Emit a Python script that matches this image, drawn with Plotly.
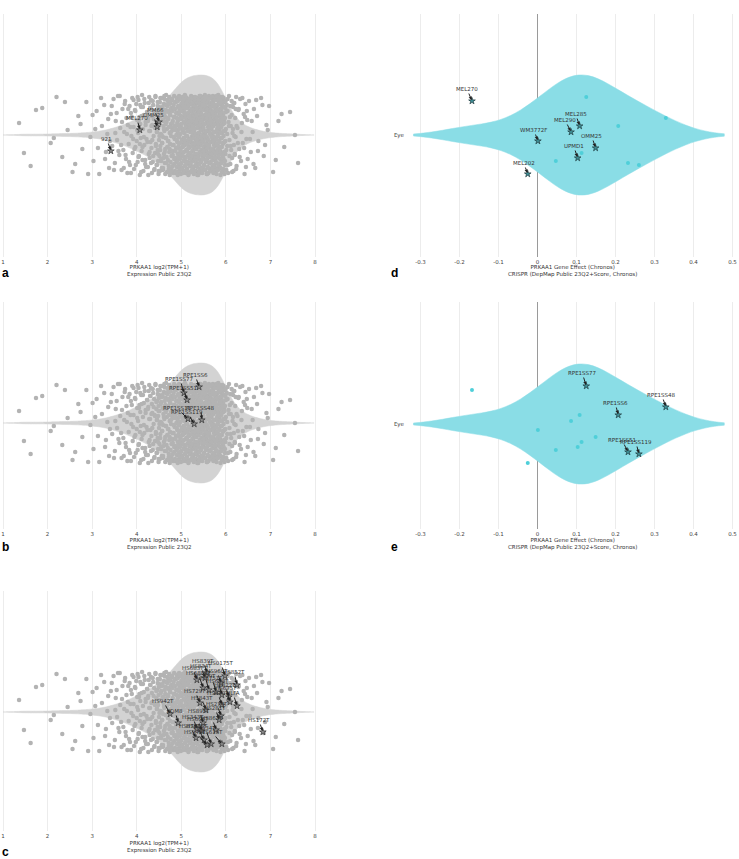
import plotly.graph_objects as go

W, H = 739, 859

# ---------------- data ----------------
expr_tick_vals = [1, 2, 3, 4, 5, 6, 7, 8]
expr_tick_text = ["1", "2", "3", "4", "5", "6", "7", "8"]
effect_tick_vals = [-0.3, -0.2, -0.1, 0, 0.1, 0.2, 0.3, 0.4, 0.5]
effect_tick_text = ["-0.3", "-0.2", "-0.1", "0", "0.1", "0.2", "0.3", "0.4", "0.5"]
lineage = ["Eye"]

expr_title = "PRKAA1 log2(TPM+1)<br>Expression Public 23Q2"
effect_title = "PRKAA1 Gene Effect (Chronos)<br>CRISPR (DepMap Public 23Q2+Score, Chronos)"

# PRKAA1 expression of all cell lines, part 1
expr_values_1 = [
    1.36, 1.62, 1.88, 2.07, 2.20, 2.33, 2.45, 2.56, 2.69, 2.78, 2.87, 2.96, 3.03, 3.10, 3.16, 3.22,
    3.27, 3.31, 3.34, 3.38, 3.42, 3.45, 3.48,
    3.51, 3.53, 3.56, 3.58, 3.61, 3.63, 3.66, 3.68, 3.70, 3.72, 3.74,
    3.76, 3.77, 3.79, 3.80, 3.82, 3.84, 3.85, 3.87, 3.88, 3.90, 3.91, 3.93, 3.94, 3.96, 3.97, 3.99,
    4.00, 4.01, 4.02, 4.03, 4.04, 4.05, 4.06, 4.07, 4.08, 4.09, 4.10, 4.11, 4.12, 4.13, 4.14, 4.15,
    4.16, 4.17, 4.18, 4.19, 4.20, 4.22, 4.24,
    4.25, 4.26, 4.27, 4.28, 4.28, 4.29, 4.30, 4.31, 4.32, 4.33, 4.34, 4.34, 4.35, 4.36, 4.37, 4.38,
    4.39, 4.40, 4.40, 4.41, 4.42, 4.43, 4.44, 4.45, 4.45, 4.46, 4.47, 4.47, 4.48, 4.48, 4.49, 4.49,
    4.50, 4.50, 4.51, 4.51, 4.52, 4.53, 4.53, 4.54, 4.55, 4.55, 4.56, 4.57, 4.57, 4.58, 4.59, 4.59,
    4.60, 4.61, 4.61, 4.62, 4.62, 4.63, 4.64, 4.64, 4.65, 4.65, 4.66, 4.67, 4.67, 4.68, 4.68, 4.69,
    4.69, 4.70, 4.70, 4.71, 4.71, 4.72, 4.72, 4.73, 4.73, 4.74, 4.74,
    4.75, 4.75, 4.76, 4.76, 4.77, 4.77, 4.78, 4.78, 4.79, 4.79, 4.80, 4.80, 4.81, 4.81, 4.82, 4.82,
    4.83, 4.83, 4.84, 4.84, 4.85, 4.85, 4.86, 4.86, 4.87, 4.87, 4.88, 4.88, 4.89, 4.89,
    4.90, 4.90, 4.90, 4.91, 4.91, 4.91, 4.92, 4.92, 4.92, 4.93, 4.93, 4.93, 4.94, 4.94, 4.94,
    4.95, 4.95, 4.95, 4.96, 4.96, 4.96, 4.97, 4.97, 4.97, 4.98, 4.98, 4.98, 4.99, 4.99, 4.99,
    5.00, 5.00, 5.01, 5.01, 5.02, 5.02,
    5.03, 5.03, 5.03, 5.04, 5.04, 5.04, 5.05, 5.05, 5.05, 5.06, 5.06, 5.06, 5.07, 5.07, 5.07,
    5.08, 5.08, 5.08, 5.09, 5.09, 5.09, 5.10, 5.10, 5.10, 5.11, 5.11, 5.11, 5.12, 5.12, 5.12,
    5.13, 5.13, 5.13, 5.14, 5.14, 5.14, 5.15, 5.15, 5.15, 5.16, 5.16, 5.16, 5.17, 5.17, 5.17,
    5.18, 5.18, 5.18, 5.19, 5.19, 5.19, 5.20, 5.20, 5.20, 5.21, 5.21, 5.21, 5.22, 5.22, 5.22,
    5.23, 5.23, 5.23, 5.24, 5.24, 5.24,
    5.25, 5.25, 5.25, 5.26, 5.26, 5.26, 5.27, 5.27, 5.27, 5.28, 5.28, 5.28, 5.29, 5.29, 5.29,
    5.30, 5.30, 5.30, 5.31, 5.31, 5.31, 5.32, 5.32, 5.32, 5.33, 5.33, 5.33, 5.34, 5.34, 5.34,
    5.35, 5.35, 5.35, 5.36, 5.36, 5.36, 5.37, 5.37, 5.37, 5.38, 5.38, 5.38, 5.39, 5.39, 5.39,
    5.40, 5.40, 5.40, 5.40, 5.41, 5.41, 5.41, 5.42, 5.42, 5.42, 5.43, 5.43, 5.43, 5.44, 5.44, 5.44,
    5.45, 5.45, 5.45, 5.45, 5.46, 5.46, 5.46, 5.47, 5.47, 5.47, 5.48, 5.48, 5.48, 5.49, 5.49, 5.49,
    5.50, 5.50, 5.50, 5.51, 5.51, 5.51, 5.52, 5.52, 5.52, 5.53, 5.53, 5.53, 5.54, 5.54, 5.54,
    5.55, 5.55, 5.55, 5.56, 5.56, 5.56, 5.57, 5.57, 5.57, 5.58, 5.58, 5.58, 5.59, 5.59, 5.59,
    5.60, 5.60, 5.60, 5.61, 5.61, 5.61, 5.62, 5.62, 5.62, 5.63, 5.63, 5.63, 5.64, 5.64, 5.64,
    5.65, 5.65, 5.65, 5.66, 5.66, 5.66, 5.67, 5.67, 5.67, 5.68, 5.68, 5.68, 5.69, 5.69, 5.69,
    5.70, 5.70, 5.70, 5.71, 5.71, 5.71, 5.72, 5.72, 5.72, 5.73, 5.73, 5.73, 5.74, 5.74, 5.74,
    5.75, 5.75, 5.75, 5.76, 5.76, 5.76, 5.77, 5.77, 5.77, 5.78, 5.78, 5.78, 5.79, 5.79, 5.79,
    5.80, 5.80, 5.80, 5.81, 5.81, 5.81, 5.82, 5.82, 5.82, 5.83, 5.83, 5.83, 5.84, 5.84, 5.84,
    5.85, 5.85, 5.85, 5.86, 5.86, 5.86, 5.87, 5.87, 5.87, 5.88, 5.88, 5.88, 5.89, 5.89, 5.89,
    5.90, 5.90, 5.90, 5.91, 5.91, 5.91, 5.92, 5.92, 5.92, 5.93, 5.93, 5.93, 5.94, 5.94, 5.94,
    5.95, 5.95, 5.96, 5.96, 5.97, 5.97, 5.98, 5.98, 5.99, 5.99,
    6.00, 6.01, 6.02, 6.03, 6.04, 6.05, 6.06, 6.07, 6.08, 6.09, 6.10, 6.11, 6.12, 6.13, 6.14, 6.15,
    6.16, 6.17, 6.18, 6.19, 6.20, 6.21, 6.22, 6.23, 6.24,
    6.26, 6.28, 6.30, 6.32, 6.34, 6.36, 6.38, 6.40, 6.42, 6.44, 6.46, 6.48, 6.49,
    6.52, 6.56, 6.60, 6.63, 6.66, 6.70, 6.73,
    6.79, 6.85, 6.91, 6.97,
    7.06, 7.18, 7.31, 7.44,
    7.62,
]

# vertical scatter offsets of part 1 (pixels from the violin axis)
expr_jitter_1 = [
    12, -31, 27, -8, 38, -22, 5, -37, 19, -14, 33, -2, -26, 24, -39, 9, 30, -17, 1, -33,
    21, -11, 36, -28, 14, -5, 39, -20, 7, -35, 26, -15, 3, 34, -24, 17, -38, 10, -9, 29,
    -30, 22, -1, 37, -18, 8, -34, 25, -12, 31, -6, 15, -27, 2, 35, -21, 18, -40, 11, -3,
    28, -16, 40, -25, 6, -36, 20, -10, 32, -29, 13, -4, 23, -32, 16, -19, 4, 38, -23, 27,
    -7, 35, -13, 19, -38, 10, -27, 30, -1, 24, -34, 8, -18, 39, -9, 14, -30, 3, 22, -15,
    33, -26, 7, -39, 17, -5, 28, -21, 12, -36, 37, -11, 1, -24, 21, -33, 26, -8, 15, -2,
    -35, 9, 31, -19, 4, 36, -28, 18, -14, 25, -3, 40, -22, 13, -37, 6, 29, -12, 34, -25,
    16, -6, 23, -31, 38, -17, 2, -40, 20, -9, 32, -27, 11, -1, 27, -34, 7, 35, -16, 24,
    -20, 14, -38, 5, 30, -10, 39, -29, 18, -4, 26, -36, 9, -23, 33, -13, 0, 22, -32, 17,
    37, -7, 12, -25, 3, 34, -19, 28, -37, 15, -11, 21, -30, 6, 39, -2, 25, -35, 10, -18,
    29, -24, 1, 36, -14, 19, -39, 8, -28, 31, -5, 16, -33, 24, -12, 38, -21, 4, -8, 32,
    -3, 26, -36, 13, -17, 35, -26, 2, 23, -10, 40, -31, 11, -22, 18, -6, 30, -38, 7, 20,
    -15, 37, -27, 10, 27, -1, -34, 15, -9, 33, -20, 5, 28, -40, 21, -13, 36, -4, 14, -29,
    8, -23, 34, -12, 24, -37, 3, 31, -18, 17, -30, 39, -7, 12, -25, 26, -2, -35, 19, 6,
    38, -16, 22, -33, 9, -8, 29, -26, 35, -1, 14, -39, 25, -11, 4, 32, -22, 17, -31, 11,
    -19, 30, -5, 21, -36, 16, 36, -14, 1, -28, 27, -9, 37, -24, 7, -32, 23, -3, 13, -40,
    24, -12, 33, -21, 10, -38, 18, 2, -29, 39, -17, 28, -6, 15, -34, 35, -25, 6, -10, 22,
    -27, 19, -2, 31, -15, 5, -37, 26, 13, -20, 38, -33, 9, -7, 29, -23, 1, 34, -13, 16,
    36, -30, 11, -4, 25, -18, 40, -11, 20, -35, 3, 30, -26, 17, -1, 37, -16, 12, -39, 27,
    -8, 15, -24, 35, -3, 22, -32, 8, 32, -19, 26, -38, 4, 18, -12, 39, -28, 10, -22, 2,
    31, -13, 17, -34, 28, -7, 12, -27, 37, 0, -21, 24, -36, 6, 33, -16, 20, -5, -31, 14,
    -1, 39, -25, 9, -14, 34, -30, 23, -10, 16, -37, 29, 3, -19, 38, -8, 11, -33, 25, -17,
    21, -4, 36, -23, 13, -39, 27, -2, 18, -28, 35, 7, -15, 30, -35, 1, 24, -11, 40, -20,
    10, -29, 32, -6, 19, -32, 5, 38, -16, 26, -24, 14, -40, 22, -3, 31, -18, 8, -27, 36,
    -12, 23, -37, 16, 2, 29, -22, 35, -9, 11, -34, 20, -1, 37, -26, 15, -7, 33, -30, 4,
    27, -19, 6, -35, 30, -11, 24, -38, 13, 39, -5, 18, -29, 9, -15, 34, -23, 2, 28, -36,
    -10, 32, -20, 17, -2, 38, -31, 7, 25, -14, 36, -26, 12, -8, 21, -39, 31, -4, 15, -24,
    34, -17, 3, 26, -33, 19, -6, 37, -21, 10, 29, -37, 14, -12, 23, -28,
]

# part 2 of the expression values
expr_values_2 = [
    1.47, 1.74, 2.14, 2.39, 2.62, 2.74, 2.91, 3.01, 3.07, 3.13, 3.20,
    3.29, 3.36, 3.40, 3.44, 3.49,
    3.52, 3.55, 3.59, 3.62, 3.65, 3.67, 3.71, 3.73,
    3.75, 3.78, 3.81, 3.83, 3.86, 3.87, 3.89, 3.92, 3.93, 3.95, 3.97, 3.98,
    4.01, 4.02, 4.04, 4.05, 4.07, 4.08, 4.10, 4.11, 4.13, 4.14, 4.16, 4.17, 4.19, 4.20, 4.21, 4.23, 4.24,
    4.25, 4.26, 4.27, 4.29, 4.30, 4.31, 4.32, 4.33, 4.35, 4.36, 4.37, 4.38, 4.39, 4.41, 4.42, 4.43,
    4.44, 4.45, 4.46, 4.47, 4.48, 4.49, 4.49,
    4.50, 4.51, 4.52, 4.53, 4.54, 4.55, 4.56, 4.56, 4.57, 4.58, 4.59, 4.60, 4.60, 4.61, 4.62, 4.63,
    4.63, 4.64, 4.65, 4.66, 4.66, 4.67, 4.68, 4.69, 4.69, 4.70, 4.71, 4.72, 4.72, 4.73, 4.74,
    4.75, 4.76, 4.77, 4.77, 4.78, 4.79, 4.80, 4.80, 4.81, 4.82, 4.83, 4.83, 4.84, 4.85, 4.86, 4.86,
    4.87, 4.88, 4.89, 4.89, 4.90, 4.91, 4.91, 4.92, 4.92, 4.93, 4.93, 4.94, 4.94, 4.95, 4.95, 4.96,
    4.96, 4.97, 4.97, 4.98, 4.98, 4.99, 4.99, 4.99, 4.94, 4.96, 4.98,
    5.00, 5.00, 5.01, 5.01, 5.02, 5.02, 5.03, 5.03, 5.04, 5.04, 5.05, 5.05, 5.06, 5.06, 5.07, 5.07,
    5.08, 5.08, 5.09, 5.09, 5.10, 5.10, 5.10, 5.11, 5.11, 5.12, 5.12, 5.13, 5.13, 5.14, 5.14, 5.15,
    5.15, 5.16, 5.16, 5.17, 5.17, 5.18, 5.18, 5.19, 5.19, 5.20, 5.20, 5.20, 5.21, 5.21, 5.22, 5.22,
    5.23, 5.23, 5.24, 5.24,
    5.25, 5.25, 5.26, 5.26, 5.27, 5.27, 5.28, 5.28, 5.29, 5.29, 5.30, 5.30, 5.30, 5.31, 5.31, 5.32,
    5.32, 5.33, 5.33, 5.34, 5.34, 5.35, 5.35, 5.35, 5.36, 5.36, 5.37, 5.37, 5.38, 5.38, 5.39, 5.39,
    5.40, 5.40, 5.40, 5.41, 5.41, 5.42, 5.42, 5.43, 5.43, 5.44, 5.44, 5.44, 5.45, 5.45, 5.46, 5.46,
    5.47, 5.47, 5.47, 5.48, 5.48, 5.49, 5.49,
    5.50, 5.50, 5.51, 5.51, 5.52, 5.52, 5.53, 5.53, 5.53, 5.54, 5.54, 5.55, 5.55, 5.56, 5.56, 5.57,
    5.57, 5.58, 5.58, 5.58, 5.59, 5.59, 5.60, 5.60, 5.61, 5.61, 5.62, 5.62, 5.63, 5.63, 5.63, 5.64,
    5.64, 5.65, 5.65, 5.66, 5.66, 5.67, 5.67, 5.68, 5.68, 5.68, 5.69, 5.69, 5.70, 5.70, 5.71, 5.71,
    5.72, 5.72, 5.73, 5.73, 5.74, 5.74,
    5.75, 5.75, 5.76, 5.76, 5.77, 5.77, 5.78, 5.78, 5.79, 5.79, 5.80, 5.80, 5.81, 5.81, 5.82, 5.82,
    5.83, 5.83, 5.84, 5.84, 5.85, 5.85, 5.86, 5.86, 5.87, 5.87, 5.88, 5.88, 5.89, 5.89, 5.90, 5.90,
    5.91, 5.91, 5.92, 5.92, 5.93, 5.93, 5.94, 5.94, 5.95, 5.95, 5.96, 5.96, 5.97, 5.97, 5.98, 5.98,
    5.99, 5.99,
    6.00, 6.01, 6.03, 6.04, 6.05, 6.07, 6.08, 6.10, 6.11, 6.13, 6.14, 6.16, 6.17, 6.19, 6.20, 6.22,
    6.23, 6.24,
    6.27, 6.29, 6.31, 6.35, 6.37, 6.41, 6.43, 6.45, 6.47,
    6.54, 6.58, 6.62, 6.68, 6.72,
    6.82, 6.88, 6.94,
    7.12, 7.25, 7.55,
]

expr_jitter_2 = [
    -18, 25, -3, 33, -29, 11, -39, 20, 6, -13, 37, -24, 16, -6, 29, -35, 2, 22, -16, 39, -10,
    13, -33, 31, -20, 1, 26, -27, 8, -38, 18, -4, 35, -14, 24, -30, 5, 38, -22, 15, -9, 30,
    -37, 19, -12, 28, -2, 36, -25, 10, -32, 23, -7, 14, -40, 32, -17, 4, 27, -28, 9, -5, 34,
    -21, 16, -35, 7, 38, -11, 21, -30, 3, 29, -19, 12, -36, 25, -1, 33, -15, 19, -26, 0, 37,
    -8, 28, -33, 14, -23, 6, 39, -17, 22, -39, 11, -3, 30, -28, 17, -12, 35, -6, 24, -34, 8,
    31, -14, 20, -37, 3, 26, -21, 36, -10, 12, -31, 27, -2, 18, -24, 9, -38, 33, -16, 5, -27,
    22, -5, 34, -26, 15, -40, 10, 29, -13, 38, -22, 1, 23, -33, 16, -8, 36, -19, 7, -29, 26,
    -2, 37, -15, 11, -34, 24, -7, 32, -20, 3, 18, -38, 28, -11, 6, -25, 35, -4, 21, -36, 13,
    39, -23, 8, -30, 17, -1, 27, -35, 14, -16, 33, -9, 4, -27, 22, -39, 12, 30, -13, 19, -6,
    -31, 10, 24, -18, 36, -4, -28, 15, -37, 25, -11, 37, -21, 2, 31, -32, 9, -15, 26, -3, 17,
    6, -36, 29, -9, 19, -24, 38, -14, 1, 34, -30, 13, -19, 27, -5, 20, -40, 8, 32, -22, -1,
    35, -12, 2, -29, 23, -37, 16, 31, -8, 10, -26, 39, -17, 5, 28, -33, 21, -2, 14, -38, 30,
    -24, 18, -6, 37, -16, 7, -31, 25, -1, 34, -20, 11, -35, 29, -9, 3, 38, -27, 17, -12, 23,
    4, -39, 26, -13, 33, -22, 12, -5, 36, -33, 20, -10, 7, -28, 30, -17, 1, 24, -36, 15, -7,
    28, -19, 38, -2, 13, -34, 22, -25, 9, 32, -15, 3, -38, 19, -6, 35, -23, 11, -30, 27, -11,
    -4, 30, -27, 16, -9, 39, -18, 5, 25, -35, 14, -1, 31, -21, 8, -32, 23, -14, 37, -7, 18,
    -33, 2, 21, -12, 35, -28, 10, -3, 27, -20, 38, -36, 15, -8, 33, -24, 4, 28, -17, 12, -39,
    17, -26, 34, -6, 23, -15, 1, 36, -30, 9, -21, 29, -11, 20, -37, 6, 32, -1, -19, 26, -34,
    9, -8, 26, -22, 3, 37, -13, 18, -32, 24, -4, 14, -29, 35, -16, 30, -10, 5, -25, 21, 0,
]

# highlighted lines, panel a (eye lines)
a_names = ["MM66", "OMM25", "MEL270", "921"]
a_expr = [4.50, 4.46, 4.07, 3.42]
a_jitter = [13, 8, 5, -16]

# highlighted lines, panel b (RPE1 lines)
b_names = ["RPE1SS6", "RPE1SS77", "RPE1SS51", "RPE1SS11", "RPE1SS48", "RPE1SS119"]
b_expr = [5.40, 5.06, 5.13, 5.15, 5.46, 5.29]
b_jitter = [36, 30, 23, 4, 3, -1]

# highlighted lines, panel c
c_names = ["HS839T", "HS0175T", "HS834T", "HS683T", "HS960T", "HS852T", "HS688AT", "HS739T",
           "HS751T", "HS698T", "HS822T", "HS729T", "HS843T", "HS840T", "HLFA", "HS942T",
           "LDM8", "HS274T", "HS895T", "HS281T", "HS172T", "HS343T", "HS606T", "HS863T",
           "HS870T", "HS888T", "HS934T", "HS618T", "HS940T", "HS675T"]
c_expr = [5.58, 5.98, 5.53, 5.35, 5.89, 6.25, 5.49, 5.62,
          5.78, 5.91, 6.07, 5.42, 5.55, 5.91, 6.25, 4.75,
          4.93, 5.89, 5.49, 5.85, 6.83, 5.35, 5.46, 5.78,
          5.33, 5.51, 5.67, 5.91, 5.58, 6.09]
c_jitter = [39, 36, 34, 32, 29, 27, 24, 22,
            20, 17, 15, 9, 2, 7, 6, -2,
            -11, -4, -11, -8, -20, -17, -19, -18,
            -26, -28, -32, -32, -33, 10]

# PRKAA1 gene effect of eye lines (panels d, e)
eye_names = ["MEL270", "MEL202", "WM3772F", "921", "MEL290", "UPMD1", "MEL285", "MM66",
             "RPE1SS77", "OMM25", "RPE1SS6", "RPE1SS51", "RPE1SS119", "RPE1SS48"]
eye_effect = [-0.168, -0.025, 0.001, 0.047, 0.086, 0.103, 0.108, 0.113,
              0.125, 0.149, 0.207, 0.232, 0.260, 0.329]
eye_jitter = [34, -39, -6, -26, 3, -23, 9, -18, 38, -13, 9, -28, -30, 17]
d_highlight = ["MEL270", "WM3772F", "MEL202", "MEL290", "MEL285", "UPMD1", "OMM25"]
e_highlight = ["RPE1SS77", "RPE1SS48", "RPE1SS6", "RPE1SS51", "RPE1SS119"]

expr_values = expr_values_1 + expr_values_2
expr_jitter = expr_jitter_1 + expr_jitter_2

# ---------------- styling / geometry ----------------
FONT = "DejaVu Sans"
SMALL = 5.5
GREY_VIOLIN = "#d3d3d3"
GREY_PT = "#b3b3b3"
CYAN_VIOLIN = "#8adde6"
CYAN_PT = "#4fcfd9"
VIOLIN_W = 120  # full violin width in pixel-units of the y axes

# label text offsets (pixels) for each highlighted point
a_off = [(-4, -12), (-4, -12), (-3, -12), (-4, -12)]
b_off = [(-4, -12), (-4, -14), (-4, -12), (-11, -11), (-1, -12), (-7, -12)]
c_off = [(-4, -12), (-4, -13), (-4, -12), (-4, -12), (-4, -12), (-3, -13), (-5, -15), (-4, -14),
         (-4, -14), (-4, -14), (-4, -12), (-5, -12), (-4, -12), (-4, -12), (-4, -13), (-7, -13),
         (-3, -12), (-4, -12), (-4, -12), (-4, -12), (-4, -12), (-4, -12), (-4, -12), (-4, -12),
         (-6, -12), (-7, -14), (-6, -16), (-10, -12), (-12, -13), (-4, -14)]
d_off = {"MEL270": (-5, -12), "WM3772F": (-4, -11), "MEL202": (-4, -11), "MEL290": (-6, -12),
         "MEL285": (-4, -12), "UPMD1": (-4, -12), "OMM25": (-4, -12)}
e_off = {"RPE1SS77": (-4, -13), "RPE1SS48": (-4, -12), "RPE1SS6": (-3, -12),
         "RPE1SS51": (-6, -12), "RPE1SS119": (-3, -12)}

# panel boxes in pixels: left, right, top, bottom, violin centre
panels = {
    "a": dict(ax="x", ay="y", l=0, r=318, t=14, b=257, c=135, title_y=270.5, letter_x=0, letter_y=273),
    "d": dict(ax="x2", ay="y2", l=405, r=739, t=14, b=257, c=135, title_y=270.5, letter_x=389, letter_y=273),
    "b": dict(ax="x3", ay="y3", l=0, r=318, t=302, b=529, c=423, title_y=543.5, letter_x=0, letter_y=547),
    "e": dict(ax="x4", ay="y4", l=405, r=739, t=302, b=529, c=424, title_y=543.5, letter_x=389, letter_y=547),
    "c": dict(ax="x5", ay="y5", l=0, r=318, t=591, b=831, c=712, title_y=846.5, letter_x=0, letter_y=851.5),
}

# expression axis: value 1 at 3 px, value 8 at 315 px
ex_scale = (315 - 3) / 7.0
ex_range = [1 - 3 / ex_scale, 8 + 3 / ex_scale]
# effect axis: 0 at 537.5 px, 390 px per unit
ef_scale = 390.0
ef_range = [(405 - 537.5) / ef_scale, (739 - 537.5) / ef_scale]

fig = go.Figure()
annotations = []
layout = dict(
    width=W, height=H, margin=dict(l=0, r=0, t=0, b=0),
    paper_bgcolor="white", plot_bgcolor="white", showlegend=False,
    font=dict(family=FONT, size=SMALL, color="#444"),
)

def axis_names(p):
    return "xaxis" + p["ax"][1:], "yaxis" + p["ay"][1:]

for key, p in panels.items():
    xa, ya = axis_names(p)
    is_expr = key in ("a", "b", "c")
    layout[xa] = dict(
        domain=[p["l"] / W, p["r"] / W], anchor=p["ay"],
        range=ex_range if is_expr else ef_range,
        tickvals=expr_tick_vals if is_expr else effect_tick_vals,
        ticktext=expr_tick_text if is_expr else effect_tick_text,
        showgrid=True, gridcolor="#ececec", gridwidth=1,
        zeroline=not is_expr, zerolinecolor="#9a9a9a", zerolinewidth=1,
        showline=False, ticks="", tickfont=dict(size=SMALL, color="#444", family=FONT),
        fixedrange=True,
    )
    yr = [-(p["b"] - p["c"]), p["c"] - p["t"]]
    ydict = dict(
        domain=[1 - p["b"] / H, 1 - p["t"] / H], anchor=p["ax"], range=yr,
        showgrid=False, zeroline=False, showline=False, ticks="", fixedrange=True,
    )
    if is_expr:
        ydict.update(showticklabels=False)
    else:
        ydict.update(tickvals=[0], ticktext=lineage,
                     tickfont=dict(size=SMALL, color="#444", family=FONT))
    layout[ya] = ydict

    annotations.append(dict(
        x=(p["l"] + p["r"]) / 2 / W, y=1 - p["title_y"] / H, xref="paper", yref="paper",
        text=expr_title if is_expr else effect_title, showarrow=False,
        xanchor="center", yanchor="middle", align="center",
        font=dict(size=SMALL, color="#333", family=FONT),
    ))
    annotations.append(dict(
        x=p["letter_x"] / W, y=1 - p["letter_y"] / H, xref="paper", yref="paper",
        text="<b>%s</b>" % key, showarrow=False, xanchor="left", yanchor="middle",
        font=dict(size=12, color="#000", family="Liberation Sans"),
    ))

def add_label_annotations(names, xs, ys, offs, p):
    for n, x, y, (ox, oy) in zip(names, xs, ys, offs):
        annotations.append(dict(
            x=x, y=y, xref=p["ax"], yref=p["ay"], text=n, showarrow=True,
            ax=ox, ay=oy, arrowhead=2, arrowsize=0.7, arrowwidth=1, arrowcolor="#222",
            standoff=1, font=dict(size=SMALL, color="#333", family=FONT),
        ))

highlights = {"a": (a_names, a_expr, a_jitter, a_off),
              "b": (b_names, b_expr, b_jitter, b_off),
              "c": (c_names, c_expr, c_jitter, c_off)}
for key in ("a", "b", "c"):
    p = panels[key]
    fig.add_trace(go.Violin(
        x=expr_values, y0=0, orientation="h", width=VIOLIN_W, bandwidth=0.18,
        spanmode="soft", points=False, fillcolor=GREY_VIOLIN, line=dict(color=GREY_VIOLIN, width=0.5),
        box_visible=False, meanline_visible=False, hoverinfo="skip",
        xaxis=p["ax"], yaxis=p["ay"],
    ))
    n = min(len(expr_values), len(expr_jitter))
    fig.add_trace(go.Scatter(
        x=expr_values[:n], y=expr_jitter[:n], mode="markers",
        marker=dict(size=4.5, color=GREY_PT, line=dict(width=0)),
        hoverinfo="skip", xaxis=p["ax"], yaxis=p["ay"],
    ))
    names, xs, ys, offs = highlights[key]
    fig.add_trace(go.Scatter(
        x=xs, y=ys, mode="markers",
        marker=dict(symbol="star", size=5, color="#8a8a8a", line=dict(color="#333", width=0.7)),
        hoverinfo="skip", xaxis=p["ax"], yaxis=p["ay"],
    ))
    add_label_annotations(names, xs, ys, offs, p)

for key, hl, offd in (("d", d_highlight, d_off), ("e", e_highlight, e_off)):
    p = panels[key]
    fig.add_trace(go.Violin(
        x=eye_effect, y0=0, orientation="h", width=VIOLIN_W, bandwidth=0.075,
        spanmode="soft", points=False, fillcolor=CYAN_VIOLIN, line=dict(color=CYAN_VIOLIN, width=0.5),
        box_visible=False, meanline_visible=False, hoverinfo="skip",
        xaxis=p["ax"], yaxis=p["ay"],
    ))
    dx = [v for nm, v in zip(eye_names, eye_effect) if nm not in hl]
    dy = [j for nm, j in zip(eye_names, eye_jitter) if nm not in hl]
    fig.add_trace(go.Scatter(
        x=dx, y=dy, mode="markers", marker=dict(size=4, color=CYAN_PT),
        hoverinfo="skip", xaxis=p["ax"], yaxis=p["ay"],
    ))
    hn = [nm for nm in eye_names if nm in hl]
    hx = [v for nm, v in zip(eye_names, eye_effect) if nm in hl]
    hy = [j for nm, j in zip(eye_names, eye_jitter) if nm in hl]
    fig.add_trace(go.Scatter(
        x=hx, y=hy, mode="markers",
        marker=dict(symbol="star", size=5, color="#3f8f96", line=dict(color="#1e3a3d", width=0.7)),
        hoverinfo="skip", xaxis=p["ax"], yaxis=p["ay"],
    ))
    add_label_annotations(hn, hx, hy, [offd[nm] for nm in hn], p)

layout["annotations"] = annotations
fig.update_layout(**layout)
fig.write_html("out.html", config={"displayModeBar": False},
               post_script="document.body.style.margin='0';")
